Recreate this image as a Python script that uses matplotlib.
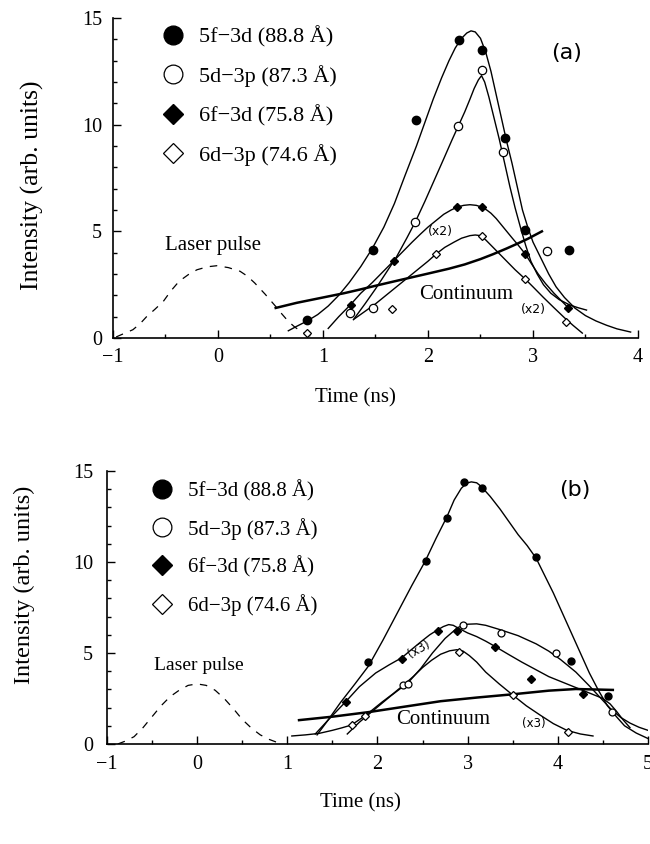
import matplotlib
matplotlib.use("Agg")
import matplotlib.pyplot as plt
from matplotlib.ticker import MultipleLocator

plt.rcParams['font.family'] = ['Liberation Serif', 'DejaVu Serif']

## 데이터 (a)
a_5f_x = [0.85, 1.474, 1.89, 2.30, 2.515, 2.737, 2.925, 3.34]
a_5f_y = [0.83, 4.14, 10.23, 13.95, 13.5, 9.375, 5.08, 4.11]
a_5d_x = [1.257, 1.48, 1.88, 2.29, 2.51, 2.71, 3.13]
a_5d_y = [1.17, 1.39, 5.45, 9.95, 12.55, 8.7, 4.1]
a_6f_x = [1.263, 1.672, 2.276, 2.51, 2.925, 3.334]
a_6f_y = [1.55, 3.6, 6.14, 6.14, 3.95, 1.4]
a_6d_x = [0.85, 1.662, 2.08, 2.51, 2.925, 3.317]
a_6d_y = [0.23, 1.36, 3.95, 4.77, 2.77, 0.73]

# fitted curves
a_fit_5f_x = [0.67, 0.75, 0.85, 0.95, 1.05, 1.15, 1.25, 1.36, 1.47, 1.58, 1.68, 1.78, 1.89, 1.97, 2.05,
              2.13, 2.2, 2.26, 2.32, 2.37, 2.41, 2.45, 2.5, 2.55, 2.6, 2.65, 2.7, 2.75, 2.8, 2.85, 2.9,
              2.95, 3.0, 3.08, 3.15, 3.22, 3.3, 3.4, 3.5, 3.6, 3.7, 3.8, 3.93]
a_fit_5f_y = [0.34, 0.55, 0.8, 1.1, 1.5, 2.0, 2.6, 3.35, 4.2, 5.2, 6.3, 7.6, 9.0, 10.1, 11.2,
              12.2, 13.0, 13.6, 14.05, 14.3, 14.4, 14.35, 14.05, 13.4, 12.5, 11.4, 10.3, 9.2, 8.2, 7.1, 6.0,
              5.2, 4.5, 3.7, 3.0, 2.4, 1.9, 1.4, 1.05, 0.8, 0.6, 0.43, 0.28]
a_fit_5d_x = [1.29, 1.4, 1.5, 1.6, 1.7, 1.8, 1.88, 1.97, 2.06, 2.15, 2.23, 2.29, 2.35, 2.4, 2.44, 2.48,
              2.51, 2.54, 2.58, 2.63, 2.68, 2.73, 2.78, 2.83, 2.88, 2.93, 2.98, 3.04, 3.1, 3.17, 3.25,
              3.35, 3.43, 3.51]
a_fit_5d_y = [0.86, 1.6, 2.3, 3.05, 3.8, 4.7, 5.45, 6.4, 7.4, 8.4, 9.3, 9.95, 10.6, 11.2, 11.7, 12.1,
              12.3, 12.0, 11.3, 10.3, 9.3, 8.2, 7.1, 6.1, 5.2, 4.35, 3.6, 3.0, 2.5, 2.1, 1.8,
              1.55, 1.42, 1.31]
a_fit_6f_x = [1.05, 1.15, 1.26, 1.36, 1.47, 1.57, 1.67, 1.76, 1.85, 1.93, 2.0, 2.08, 2.15, 2.22, 2.28,
              2.34, 2.4, 2.46, 2.51, 2.56, 2.6, 2.65, 2.7, 2.75, 2.8, 2.86, 2.925, 2.99, 3.05, 3.12,
              3.2, 3.27, 3.34]
a_fit_6f_y = [0.45, 1.0, 1.55, 2.1, 2.6, 3.1, 3.6, 4.05, 4.5, 4.88, 5.2, 5.52, 5.8, 6.0, 6.14,
              6.22, 6.25, 6.22, 6.14, 6.0, 5.85, 5.6, 5.3, 5.0, 4.7, 4.35, 3.95, 3.45, 3.0, 2.55,
              2.1, 1.75, 1.4]
a_fit_6d_x = [1.3, 1.4, 1.5, 1.6, 1.7, 1.8, 1.9, 2.0, 2.08, 2.16, 2.25, 2.32, 2.4, 2.45, 2.5, 2.55,
              2.6, 2.67, 2.75, 2.83, 2.925, 3.0, 3.1, 3.2, 3.3, 3.38, 3.47]
a_fit_6d_y = [0.9, 1.25, 1.6, 2.0, 2.4, 2.8, 3.2, 3.6, 3.95, 4.25, 4.5, 4.68, 4.8, 4.83, 4.8, 4.6,
              4.35, 4.0, 3.6, 3.2, 2.77, 2.4, 1.9, 1.42, 0.95, 0.6, 0.23]
a_cont_x = [0.55, 0.75, 0.9, 1.05, 1.2, 1.35, 1.5, 1.7, 1.85, 2.0, 2.2, 2.35, 2.5, 2.62, 2.75, 2.85, 2.95, 3.085]
a_cont_y = [1.41, 1.65, 1.8, 1.95, 2.1, 2.27, 2.45, 2.68, 2.85, 3.02, 3.25, 3.45, 3.7, 3.93, 4.2, 4.42, 4.65, 5.0]
a_laser_x = [-0.97, -0.9, -0.81, -0.74, -0.68, -0.6, -0.52, -0.45, -0.37, -0.28, -0.2, -0.1, -0.01,
             0.1, 0.21, 0.28, 0.35, 0.45, 0.55, 0.61, 0.67, 0.73, 0.79, 0.85, 0.9]
a_laser_y = [0.05, 0.2, 0.39, 0.68, 1.0, 1.35, 1.72, 2.2, 2.66, 2.98, 3.2, 3.34, 3.39,
             3.3, 3.13, 2.9, 2.58, 2.05, 1.48, 1.12, 0.78, 0.52, 0.31, 0.16, 0.05]

## 데이터 (b)
b_5f_x = [1.898, 2.538, 2.767, 2.963, 3.155, 3.758, 4.15, 4.56]
b_5f_y = [4.52, 10.05, 12.4, 14.41, 14.05, 10.29, 4.56, 2.64]
b_5d_x = [2.286, 2.34, 2.951, 3.366, 3.98, 4.604]
b_5d_y = [3.24, 3.3, 6.54, 6.12, 5.02, 1.78]
b_6f_x = [1.65, 2.267, 2.667, 2.877, 3.303, 3.698, 4.283]
b_6f_y = [2.33, 4.67, 6.23, 6.23, 5.35, 3.55, 2.75]
b_6d_x = [1.713, 1.861, 2.904, 3.506, 4.108]
b_6d_y = [1.04, 1.54, 5.07, 2.69, 0.64]

b_fit_5f_x = [1.33, 1.45, 1.59, 1.75, 1.9, 2.06, 2.22, 2.38, 2.53, 2.65, 2.77, 2.85, 2.93, 2.99, 3.04,
              3.1, 3.15, 3.25, 3.36, 3.46, 3.56, 3.66, 3.76, 3.85, 3.95, 4.05, 4.15, 4.25, 4.35, 4.45,
              4.55, 4.65, 4.74, 4.87, 5.0]
b_fit_5f_y = [0.5, 1.3, 2.28, 3.3, 4.28, 5.7, 7.2, 8.7, 10.05, 11.3, 12.48, 13.4, 14.05, 14.33, 14.4,
              14.35, 14.15, 13.6, 12.9, 12.2, 11.5, 10.9, 10.2, 9.3, 8.3, 7.2, 6.1, 5.0, 3.9, 2.95,
              2.1, 1.5, 1.0, 0.6, 0.3]
b_fit_5d_x = [1.665, 1.8, 1.98, 2.15, 2.34, 2.48, 2.61, 2.75, 2.89, 3.0, 3.1, 3.2, 3.36, 3.56, 3.76,
              3.9, 4.03, 4.2, 4.35, 4.47, 4.59, 4.7, 4.8, 4.9, 5.0]
b_fit_5d_y = [0.55, 1.2, 1.95, 2.65, 3.37, 4.15, 5.0, 5.8, 6.4, 6.58, 6.6, 6.52, 6.28, 5.95, 5.5,
              5.1, 4.64, 3.95, 3.19, 2.55, 1.91, 1.45, 1.15, 0.92, 0.75]
b_fit_6f_x = [1.31, 1.45, 1.645, 1.8, 1.98, 2.13, 2.27, 2.38, 2.49, 2.58, 2.67, 2.73, 2.79, 2.84, 2.89,
              3.0, 3.1, 3.2, 3.3, 3.45, 3.6, 3.75, 3.9, 4.05, 4.2, 4.35, 4.5, 4.58, 4.65, 4.72, 4.8]
b_fit_6f_y = [0.55, 1.3, 2.31, 3.15, 3.9, 4.35, 4.74, 5.2, 5.65, 6.0, 6.28, 6.45, 6.56, 6.52, 6.38,
              6.1, 5.9, 5.65, 5.37, 4.93, 4.5, 4.1, 3.7, 3.4, 3.1, 2.8, 2.5, 2.2, 1.8, 1.35, 0.9]
b_fit_6d_x = [1.05, 1.2, 1.35, 1.5, 1.6, 1.71, 1.86, 1.95, 2.05, 2.17, 2.29, 2.4, 2.5, 2.6, 2.7,
              2.8, 2.88, 2.95, 3.02, 3.1, 3.2, 3.35, 3.5, 3.65, 3.8, 3.95, 4.1, 4.25, 4.39]
b_fit_6d_y = [0.44, 0.5, 0.58, 0.75, 0.88, 1.04, 1.54, 1.9, 2.3, 2.75, 3.24, 3.72, 4.2, 4.6, 4.93,
              5.12, 5.18, 5.1, 4.85, 4.5, 3.95, 3.3, 2.69, 2.1, 1.6, 1.12, 0.75, 0.55, 0.44]
b_cont_x = [1.13, 1.5, 1.9, 2.3, 2.7, 3.1, 3.5, 3.9, 4.2, 4.61]
b_cont_y = [1.31, 1.5, 1.75, 2.05, 2.35, 2.55, 2.73, 2.93, 3.02, 2.97]
b_laser_x = [-0.88, -0.8, -0.7, -0.6, -0.5, -0.4, -0.3, -0.2, -0.1, 0.0, 0.1, 0.2, 0.3, 0.4, 0.5,
             0.6, 0.7, 0.8, 0.88]
b_laser_y = [0.0, 0.15, 0.4, 0.9, 1.5, 2.1, 2.6, 2.95, 3.22, 3.3, 3.22, 2.95, 2.5, 1.95, 1.35,
             0.88, 0.5, 0.25, 0.1]

labels = ['5f\u22123d (88.8 Å)', '5d\u22123p (87.3 Å)', '6f\u22123d (75.8 Å)', '6d\u22123p (74.6 Å)']

fig = plt.figure(figsize=(6.5, 8.44), dpi=100)
fig.set_facecolor('white')
ax1 = fig.add_axes([0.1738, 0.5995, 0.8077, 0.3791])
ax2 = fig.add_axes([0.1646, 0.1185, 0.8323, 0.3235])


def style(ax, xmax, ypad, xpad):
    ax.set_xlim(-1, xmax)
    ax.set_ylim(0, 15)
    for s in ['top', 'right']:
        ax.spines[s].set_visible(False)
    for s in ['left', 'bottom']:
        ax.spines[s].set_linewidth(1.2)
    ax.xaxis.set_major_locator(MultipleLocator(1))
    ax.xaxis.set_minor_locator(MultipleLocator(0.5))
    ax.yaxis.set_major_locator(MultipleLocator(5))
    ax.yaxis.set_minor_locator(MultipleLocator(1))
    ax.tick_params(which='both', direction='in', width=1)
    ax.tick_params(which='major', length=6, labelsize=14.5)
    ax.tick_params(which='minor', length=3)
    ax.tick_params(axis='y', pad=ypad)
    ax.tick_params(axis='x', pad=xpad)
    ax.set_xticklabels([('\u2212%d' % -t) if t < 0 else '%d' % t for t in ax.get_xticks()])


def panel(ax, d, fits, cont, laser, ms):
    for fx, fy in fits:
        ax.plot(fx, fy, color='black', lw=1.0)
    ax.plot(cont[0], cont[1], color='black', lw=1.8)
    ax.plot(laser[0], laser[1], color='black', lw=0.9, dashes=(6, 6))
    h = []
    h += ax.plot(d[0][0], d[0][1], 'o', color='black', ms=ms, ls='none')
    h += ax.plot(d[1][0], d[1][1], 'o', mfc='white', mec='black', mew=0.9, ms=ms, ls='none')
    h += ax.plot(d[2][0], d[2][1], 'D', color='black', ms=ms * 0.75, ls='none')
    h += ax.plot(d[3][0], d[3][1], 'D', mfc='white', mec='black', mew=0.9, ms=ms * 0.75, ls='none')
    return h


ha = panel(ax1,
           [(a_5f_x, a_5f_y), (a_5d_x, a_5d_y), (a_6f_x, a_6f_y), (a_6d_x, a_6d_y)],
           [(a_fit_5f_x, a_fit_5f_y), (a_fit_5d_x, a_fit_5d_y), (a_fit_6f_x, a_fit_6f_y), (a_fit_6d_x, a_fit_6d_y)],
           (a_cont_x, a_cont_y), (a_laser_x, a_laser_y), 6)
style(ax1, 4, 8, 7)
ax1.legend(ha, labels, loc='upper left', bbox_to_anchor=(0.0926, 0.975), frameon=False,
           markerscale=2.25, fontsize=16, handlelength=1.0, handletextpad=0.7,
           labelspacing=0.8, borderpad=0, borderaxespad=0)
ax1.text(-0.05, 4.35, 'Laser pulse', fontsize=15, ha='center', va='center')
ax1.text(2.36, 2.03, 'Continuum', fontsize=15, ha='center', va='center')
ax1.text(2.12, 5.0, '(x2)', fontsize=9, ha='center', va='center', family=['DejaVu Sans'])
ax1.text(3.0, 1.36, '(x2)', fontsize=9, ha='center', va='center', family=['DejaVu Sans'])
ax1.text(3.32, 13.36, '(a)', fontsize=16, ha='center', va='center', family=['DejaVu Sans'])

hb = panel(ax2,
           [(b_5f_x, b_5f_y), (b_5d_x, b_5d_y), (b_6f_x, b_6f_y), (b_6d_x, b_6d_y)],
           [(b_fit_5f_x, b_fit_5f_y), (b_fit_5d_x, b_fit_5d_y), (b_fit_6f_x, b_fit_6f_y), (b_fit_6d_x, b_fit_6d_y)],
           (b_cont_x, b_cont_y), (b_laser_x, b_laser_y), 5)
style(ax2, 5, 10, 8)
ax2.legend(hb, labels, loc='upper left', bbox_to_anchor=(0.0824, 0.967), frameon=False,
           markerscale=2.7, fontsize=15, handlelength=1.0, handletextpad=0.75,
           labelspacing=0.79, borderpad=0, borderaxespad=0)
ax2.text(0.02, 4.29, 'Laser pulse', fontsize=14, ha='center', va='center')
ax2.text(2.73, 1.36, 'Continuum', fontsize=15, ha='center', va='center')
ax2.text(3.735, 1.13, '(x3)', fontsize=8.5, ha='center', va='center', family=['DejaVu Sans'])
ax2.text(2.465, 5.2, '(x3)', fontsize=8.5, ha='center', va='center', rotation=30, family=['DejaVu Sans'])
ax2.text(4.19, 13.93, '(b)', fontsize=16, ha='center', va='center', family=['DejaVu Sans'])

# axis labels
fig.text(32 / 650, 1 - 185 / 844, 'Intensity (arb. units)', rotation=90, fontsize=18.5, ha='center', va='center')
fig.text(355 / 650, 1 - 398 / 844, 'Time (ns)', fontsize=15, ha='center', va='center')
fig.text(24 / 650, 1 - 585 / 844, 'Intensity (arb. units)', rotation=90, fontsize=17.5, ha='center', va='center')
fig.text(360 / 650, 1 - 803 / 844, 'Time (ns)', fontsize=15, ha='center', va='center')

fig.savefig('out.png', dpi=100, facecolor='white')
